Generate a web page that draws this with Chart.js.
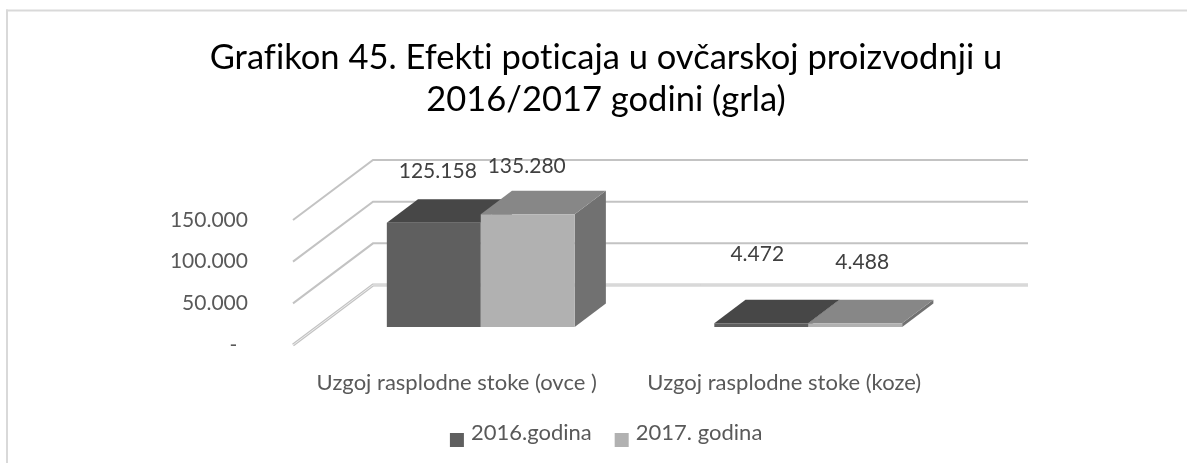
<!DOCTYPE html>
<html>
<head>
<meta charset="utf-8">
<script src="https://cdn.jsdelivr.net/npm/chart.js@4.4.0/dist/chart.umd.min.js"></script>
<style>
  html, body { margin: 0; padding: 0; background: #fff; }
  #wrap { width: 1187px; height: 463px; position: relative; }
</style>
</head>
<body>
<div id="wrap"><canvas id="c" width="1187" height="463"></canvas></div>
<script>
// ---- data ----
const titleLines = ['Grafikon 45. Efekti poticaja u ovčarskoj proizvodnji u', '2016/2017 godini (grla)'];
const categories = ['Uzgoj rasplodne stoke (ovce )', 'Uzgoj rasplodne stoke (koze)'];
const seriesNames = ['2016.godina', '2017. godina'];
const values2016 = [125158, 4472];
const values2017 = [135280, 4488];
const yTicks = [0, 50000, 100000, 150000];

// ---- styling ----
const FONT = 'Lato, "Open Sans", "Liberation Sans", sans-serif';
const faceColors = [
  { front: '#5f5f5f', top: '#474747', side: '#3c3c3c' },
  { front: '#b1b1b1', top: '#878787', side: '#717171' }
];
// label nudges (dx, dy) from the top-centre of each bar's front face
const labelNudge = [
  [[4, -51], [-4, -69]],
  [[-1, -48], [7, -61]]
];
const FLOOR = { dx: 80, dy: -60 };   // depth vector of the 3-D floor
const BAR_FRONT = 0.30;              // where bars start along the depth
const BAR_BACK = 0.69;               // where bars end along the depth

const fmt = v => v === 0 ? '-  ' : String(v).replace(/\B(?=(\d{3})+(?!\d))/g, '.');

function poly(ctx, pts, fill) {
  ctx.beginPath();
  ctx.moveTo(pts[0][0], pts[0][1]);
  for (let i = 1; i < pts.length; i++) ctx.lineTo(pts[i][0], pts[i][1]);
  ctx.closePath();
  ctx.fillStyle = fill;
  ctx.fill();
}

const threeD = {
  id: 'threeD',
  beforeDraw(chart) {
    const ctx = chart.ctx;
    ctx.save();
    ctx.fillStyle = '#ffffff';
    ctx.fillRect(0, 0, chart.width, chart.height);
    // outer chart frame
    ctx.fillStyle = '#d9d9d9';
    ctx.fillRect(6, 9.5, chart.width - 6, 2);
    ctx.fillRect(6, 9.5, 2, chart.height - 9.5);
    ctx.restore();
    // tiny tracking keeps "fi"/"ti" as separate letters
    if ('letterSpacing' in ctx) ctx.letterSpacing = '0.01px';
  },
  beforeDatasetsDraw(chart) {
    // side wall diagonals + back wall gridlines
    const ctx = chart.ctx, area = chart.chartArea, ys = chart.scales.y;
    ctx.save();
    ctx.lineJoin = 'miter';
    yTicks.forEach(v => {
      const py = ys.getPixelForValue(v);
      const path = () => {
        ctx.beginPath();
        ctx.moveTo(area.left, py);
        ctx.lineTo(area.left + FLOOR.dx, py + FLOOR.dy);
        ctx.lineTo(area.right + FLOOR.dx, py + FLOOR.dy);
      };
      path();
      ctx.strokeStyle = '#c3c3c3';
      ctx.lineWidth = v === 0 ? 3 : 2;
      ctx.stroke();
      if (v === 0) {
        path();
        ctx.strokeStyle = '#eeeeee';
        ctx.lineWidth = 1;
        ctx.stroke();
      }
    });
    ctx.restore();
  },
  beforeDatasetDraw() {
    return false; // bars are drawn as boxes below
  },
  afterDatasetsDraw(chart) {
    const ctx = chart.ctx;
    const ox = FLOOR.dx * BAR_FRONT, oy = FLOOR.dy * BAR_FRONT;
    const ddx = FLOOR.dx * (BAR_BACK - BAR_FRONT), ddy = FLOOR.dy * (BAR_BACK - BAR_FRONT);
    ctx.save();
    const labels = [];
    for (let i = 0; i < categories.length; i++) {
      chart.data.datasets.forEach((ds, d) => {
        const el = chart.getDatasetMeta(d).data[i];
        const p = el.getProps(['x', 'y', 'base', 'width'], true);
        const l = p.x - p.width / 2 + ox, r = p.x + p.width / 2 + ox;
        const t = p.y + oy, b = p.base + oy;
        const c = faceColors[d];
        poly(ctx, [[r, t], [r + ddx, t + ddy], [r + ddx, b + ddy], [r, b]], c.side);
        poly(ctx, [[l, t], [l + ddx, t + ddy], [r + ddx, t + ddy], [r, t]], c.top);
        ctx.fillStyle = c.front;
        ctx.fillRect(l, t, r - l, b - t);
        const n = labelNudge[d][i];
        labels.push({ text: fmt(ds.data[i]), x: (l + r) / 2 + n[0], y: t + n[1] });
      });
    }
    ctx.font = '21px ' + FONT;
    ctx.fillStyle = '#404040';
    ctx.textAlign = 'center';
    ctx.textBaseline = 'middle';
    labels.forEach(lb => ctx.fillText(lb.text, lb.x, lb.y));
    ctx.restore();
  },
  afterDraw(chart) {
    // legend swatches
    const ctx = chart.ctx, boxes = chart.legend.legendHitBoxes;
    ctx.save();
    boxes.forEach((hb, i) => {
      ctx.fillStyle = faceColors[i].front;
      ctx.fillRect(hb.left, hb.top + hb.height / 2, 14, 14);
    });
    ctx.restore();
  }
};

function build() {
  new Chart(document.getElementById('c'), {
    type: 'bar',
    data: {
      labels: categories,
      datasets: [
        { label: seriesNames[0], data: values2016, backgroundColor: faceColors[0].front },
        { label: seriesNames[1], data: values2017, backgroundColor: faceColors[1].front }
      ]
    },
    options: {
      responsive: false,
      animation: false,
      events: [],
      categoryPercentage: 0.5736,
      barPercentage: 1,
      layout: { padding: { left: 25, right: 0, top: 0, bottom: 9 } },
      scales: {
        x: {
          grid: { display: false, drawTicks: false },
          border: { display: false },
          ticks: { padding: 24.3, color: '#595959', font: { family: FONT, size: 22 }, maxRotation: 0, autoSkip: false },
          afterFit: s => { s.height = 54; }
        },
        y: {
          position: 'left',
          min: yTicks[0],
          max: yTicks[yTicks.length - 1],
          grid: { display: false, drawTicks: false },
          border: { display: false },
          ticks: { padding: 45, color: '#595959', font: { family: FONT, size: 21 }, callback: v => fmt(v) },
          afterBuildTicks: s => { s.ticks = yTicks.map(v => ({ value: v })); },
          afterFit: s => { s.width = 268; }
        },
        depthRoom: {
          type: 'linear',
          position: 'right',
          grid: { display: false, drawTicks: false },
          border: { display: false },
          ticks: { display: false },
          afterFit: s => { s.width = 239; }
        }
      },
      plugins: {
        tooltip: { enabled: false },
        title: {
          display: true,
          text: titleLines,
          color: '#000000',
          font: { family: FONT, size: 34.5, weight: 'normal', lineHeight: '42px' },
          padding: { top: 37, bottom: 99 }
        },
        legend: {
          position: 'bottom',
          labels: {
            color: '#595959',
            font: { family: FONT, size: 22 },
            boxWidth: 10,
            boxHeight: 10,
            padding: 23,
            generateLabels: chart => Chart.defaults.plugins.legend.labels.generateLabels(chart).map(it => ({
              ...it, fillStyle: 'rgba(0,0,0,0)', strokeStyle: 'rgba(0,0,0,0)', lineWidth: 0
            }))
          }
        }
      }
    },
    plugins: [threeD]
  });
}

if (document.fonts && document.fonts.load) {
  Promise.all([document.fonts.load('22px Lato'), document.fonts.load('34px Lato')]).then(build, build);
} else {
  build();
}
</script>
</body>
</html>
